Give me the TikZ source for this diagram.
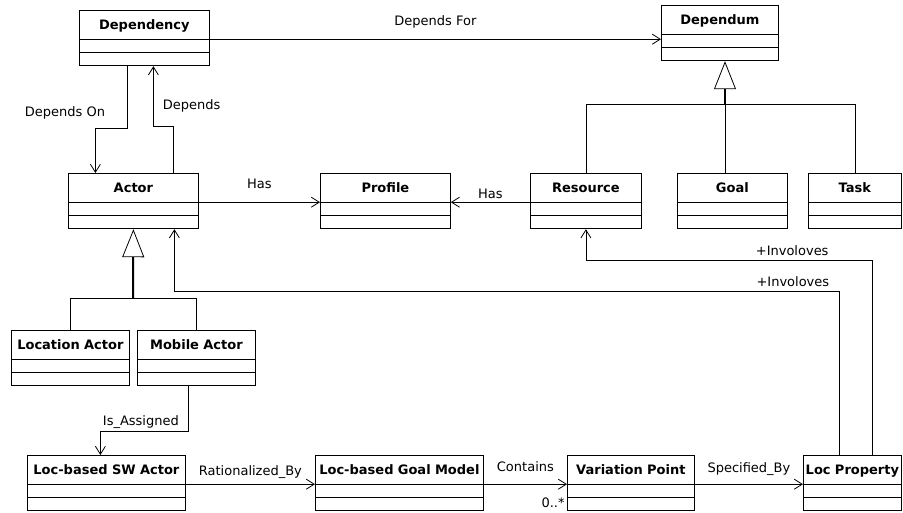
\documentclass[tikz,border=0pt]{standalone}
\usepackage{fontspec}
\setmainfont{DejaVu Sans}
\usetikzlibrary{shapes.multipart,arrows.meta}
\newcommand{\umlparts}[1]{\rule[-9pt]{0pt}{28pt}#1\nodepart{two}\rule[-4pt]{0pt}{12pt}\nodepart{three}\rule[-4pt]{0pt}{13pt}}

\begin{document}
\begin{tikzpicture}[x=1pt,y=-1pt,line width=0.8pt,font=\fontsize{13}{15}\selectfont,
	>={Straight Barb[length=8pt,width=10pt]},
	umlclass/.style={draw,rectangle split,rectangle split parts=3,inner xsep=0pt,inner ysep=0pt,align=center,anchor=north west,font=\fontsize{13}{15}\selectfont\bfseries},
	gen/.style={line width=2pt,-{Triangle[open,length=28pt,width=22pt,line width=0.8pt]}},
	lbl/.style={anchor=base,inner sep=0pt}]
\useasboundingbox (0,0) rectangle (903,512);
\foreach \nm/\x/\y/\w/\t in {dependency/79/10/130/Dependency,dependum/661/5/117/Dependum,actor/68/173/130/Actor,profile/320/173/130/Profile,resource/530/173/111/Resource,goal/677/173/110/Goal,task/808/173/93/Task,locactor/11/330/118/Location Actor,mobactor/137/330/118/Mobile Actor,swactor/27/455/158/Loc-based SW Actor,goalmodel/315/455/168/Loc-based Goal Model,varpoint/567/455/127/Variation Point,locprop/803/455/98/Loc Property}
	\node[umlclass,text width=\w pt] (\nm) at (\x,\y) {\umlparts{\t}};

\coordinate (dmjoin) at (725,104);
\coordinate (acjoin) at (133,298);

\draw[->] (dependency.one split east) -- node[lbl,yshift=14pt] (lblDependsFor) {Depends For} (dependency.one split east -| dependum.west);
\draw (resource.north) |- (task.north |- dmjoin) -- (task.north);
\draw (dmjoin) -- (dmjoin |- goal.north);
\draw[gen] (dmjoin) -- (dmjoin |- dependum.south);

\draw[->] ([xshift=-17pt]dependency.south) -- node[lbl,pos=.81,anchor=base east,xshift=-22pt] (lblDependsOn) {Depends On} ++(0,62) -| ([xshift=-38pt]actor.north);
\draw[->] ([xshift=40pt]actor.north) -- ++(0,-47) -| node[lbl,pos=.635,anchor=base west,xshift=9pt] (lblDepends) {Depends} ([xshift=9pt]dependency.south);

\draw[->] (actor.one split east) -- node[lbl,yshift=14pt] (lblHasActor) {Has} (profile.one split west);
\draw[->] (resource.one split west) -- node[lbl,yshift=4pt] (lblHasResource) {Has} (profile.one split east);

\draw (locactor.north) |- (mobactor.north |- acjoin) -- (mobactor.north);
\draw[gen] (acjoin) -- (actor.south);

\draw[->] ([xshift=-8pt]mobactor.south) -- ++(0,45) -| node[lbl,pos=.27,yshift=6pt] (lblAssigned) {Is\_Assigned} ([xshift=-6pt]swactor.north);

\draw[->] (swactor.one split east) -- node[lbl,yshift=9pt] (lblRationalized) {Rationalized\_By} (goalmodel.one split west);
\draw[->] (goalmodel.one split east) -- node[lbl,yshift=13pt] (lblContains) {Contains} node[lbl,pos=1,anchor=base east,xshift=-2pt,yshift=-23pt] (lblMult) {0..*} (varpoint.one split west);
\draw[->] (varpoint.one split east) -- node[lbl,yshift=12pt] (lblSpecified) {Specified\_By} (locprop.one split west);

\draw[->] ([xshift=20pt]locprop.north) |- node[lbl,pos=.64,yshift=5pt] (lblInvRes) {+Involoves} ([yshift=-31pt]resource.south) -- (resource.south);
\draw[->] ([xshift=-13pt]locprop.north) |- node[lbl,pos=.535,yshift=5pt] (lblInvActor) {+Involoves} ([xshift=41pt,yshift=-62pt]actor.south) -- ([xshift=41pt]actor.south);
\end{tikzpicture}
\end{document}
